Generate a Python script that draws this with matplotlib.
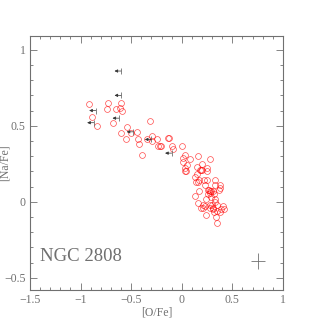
import matplotlib
matplotlib.use('Agg')
import matplotlib.pyplot as plt
from matplotlib.ticker import MultipleLocator

# NGC 2808 stars: [O/Fe] and [Na/Fe], detections
ofe = [-0.92, -0.73, -0.60, -0.74, -0.65, -0.61, -0.59, -0.89, -0.68, -0.84,
       -0.31, -0.54, -0.60, -0.44, -0.50, -0.55, -0.43, -0.42, -0.34, -0.29,
       -0.24, -0.29, -0.23, -0.22, -0.21, -0.14, -0.13, -0.10, -0.09, -0.39,
       0.00, 0.03, 0.01, 0.16, 0.28, 0.08, 0.01, 0.20, 0.05, 0.03,
       0.15, 0.18, 0.19, 0.25, 0.25, 0.04, 0.03, 0.15, 0.13, 0.17,
       0.22, 0.25, 0.33, 0.14, 0.16, 0.23, 0.33, 0.38, 0.28, 0.27,
       0.28, 0.31, 0.26, 0.37, 0.38, 0.17, 0.32, 0.13, 0.29, 0.24,
       0.33, 0.16, 0.21, 0.23, 0.30, 0.28, 0.31, 0.35, 0.41, 0.42,
       0.39, 0.35, 0.32, 0.21, 0.19, 0.34, 0.24, 0.35, 0.26, 0.33,
       0.28, 0.31, 0.38, 0.20, 0.29]
nafe = [0.64, 0.65, 0.65, 0.61, 0.61, 0.62, 0.60, 0.56, 0.52, 0.50,
        0.53, 0.49, 0.45, 0.46, 0.45, 0.41, 0.41, 0.38, 0.41, 0.43,
        0.41, 0.40, 0.37, 0.37, 0.37, 0.42, 0.42, 0.37, 0.35, 0.31,
        0.37, 0.31, 0.29, 0.30, 0.28, 0.28, 0.26, 0.25, 0.24, 0.22,
        0.23, 0.21, 0.21, 0.22, 0.20, 0.20, 0.20, 0.18, 0.16, 0.14,
        0.14, 0.14, 0.14, 0.13, 0.13, 0.11, 0.11, 0.11, 0.07, 0.08,
        0.06, 0.07, 0.08, 0.08, 0.09, 0.07, 0.05, 0.04, 0.03, 0.02,
        0.02, -0.01, -0.02, -0.03, -0.02, -0.04, -0.05, -0.02, -0.03, -0.05,
        -0.05, -0.06, -0.07, -0.04, -0.04, -0.10, -0.09, -0.14, 0.05, 0.00,
        -0.02, -0.04, -0.07, 0.21, 0.07]

# upper limits in [O/Fe]
ofe_lim = [-0.60, -0.60, -0.85, -0.62, -0.87, -0.48, -0.30, -0.10]
nafe_lim = [0.86, 0.70, 0.60, 0.55, 0.52, 0.46, 0.41, 0.32]

# typical error bar
err_x, err_y = 0.75, -0.39
err_dx, err_dy = 0.07, 0.05

gray = '#707070'
plt.rcParams['font.family'] = ['Liberation Serif']

fig = plt.figure(figsize=(3.19, 3.19), dpi=100)
ax = fig.add_axes([0.094, 0.091, 0.793, 0.796])

ax.plot(ofe, nafe, 'o', mfc='none', mec='red', ms=4.2, mew=0.5, alpha=0.7)

for x, y in zip(ofe_lim, nafe_lim):
    ax.annotate('', xy=(x - 0.065, y), xytext=(x, y),
                arrowprops=dict(arrowstyle='-|>,head_length=0.3,head_width=0.15',
                                mutation_scale=6, shrinkA=0, shrinkB=0,
                                color='#333333', lw=0.5))
ax.plot(ofe_lim, nafe_lim, '|', color=gray, ms=4, mew=0.6)

ax.errorbar([err_x], [err_y], xerr=[err_dx], yerr=[err_dy], fmt='none',
            ecolor=gray, elinewidth=0.6, capsize=0)

ax.text(-1.4, -0.39, 'NGC 2808', fontsize=13.5, color=gray)

ax.set_xlim(-1.5, 1.0)
ax.set_ylim(-0.58, 1.09)
ax.xaxis.set_minor_locator(MultipleLocator(0.1))
ax.yaxis.set_minor_locator(MultipleLocator(0.1))
ax.set_xticks([-1.5, -1, -0.5, 0, 0.5, 1])
ax.set_xticklabels(['\u22121.5', '\u22121', '\u22120.5', '0', '0.5', '1'])
ax.set_yticks([-0.5, 0, 0.5, 1])
ax.set_yticklabels(['\u22120.5', '0', '0.5', '1'])

ax.tick_params(which='both', direction='in', top=True, right=True,
               colors=gray, labelsize=8.5, width=0.6)
ax.tick_params(which='major', length=5, pad=3)
ax.tick_params(which='minor', length=2.5)
for s in ax.spines.values():
    s.set_color(gray)
    s.set_linewidth(0.8)

ax.set_xlabel('[O/Fe]', fontsize=8.5, color=gray)
ax.xaxis.set_label_coords(0.5, -0.066)
ax.set_ylabel('[Na/Fe]', fontsize=8.5, color=gray)
ax.yaxis.set_label_coords(-0.075, 0.5)

fig.savefig('out.png', dpi=100)
